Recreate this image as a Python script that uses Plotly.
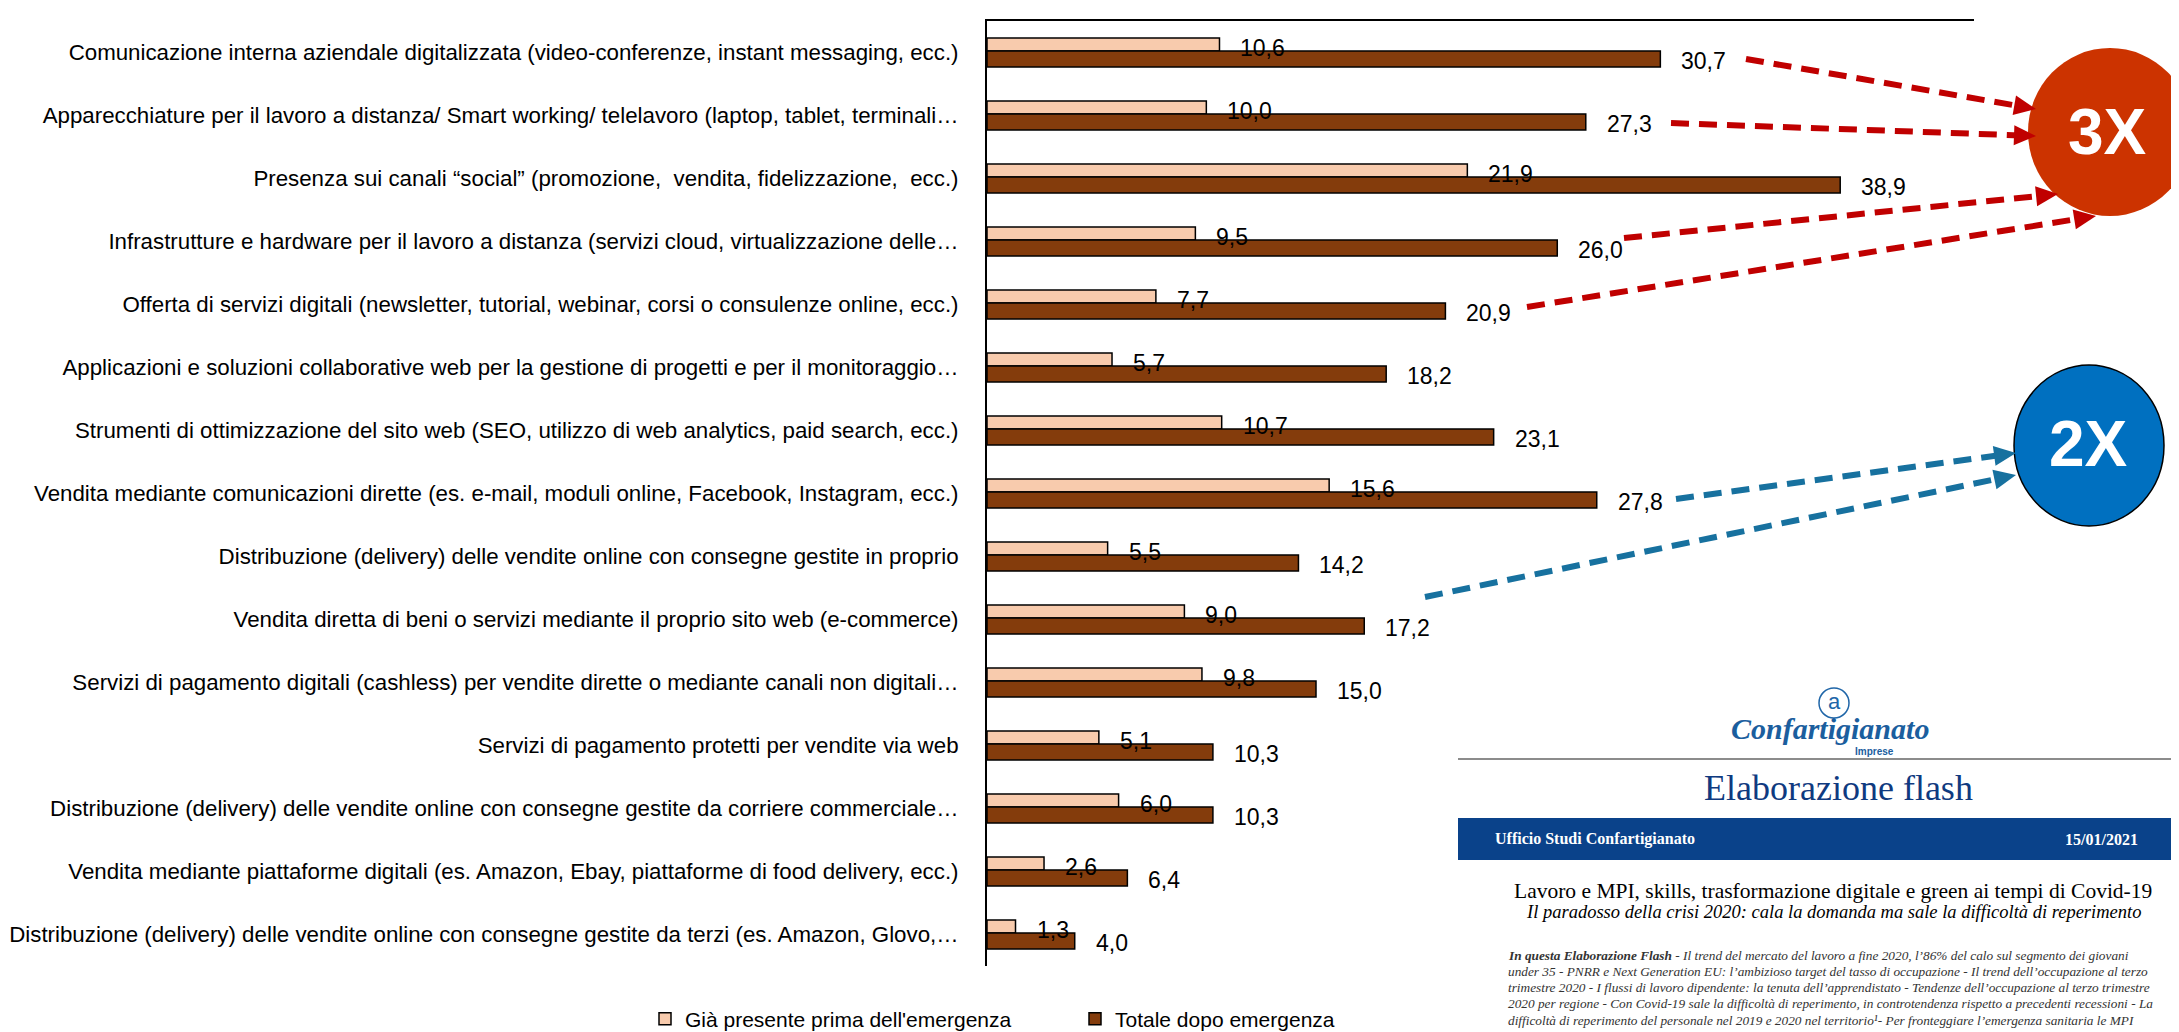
import math
import plotly.graph_objects as go

categories = [
    "Comunicazione interna aziendale digitalizzata (video-conferenze, instant messaging, ecc.)",
    "Apparecchiature per il lavoro a distanza/ Smart working/ telelavoro (laptop, tablet, terminali…",
    "Presenza sui canali “social” (promozione,  vendita, fidelizzazione,  ecc.)",
    "Infrastrutture e hardware per il lavoro a distanza (servizi cloud, virtualizzazione delle…",
    "Offerta di servizi digitali (newsletter, tutorial, webinar, corsi o consulenze online, ecc.)",
    "Applicazioni e soluzioni collaborative web per la gestione di progetti e per il monitoraggio…",
    "Strumenti di ottimizzazione del sito web (SEO, utilizzo di web analytics, paid search, ecc.)",
    "Vendita mediante comunicazioni dirette (es. e-mail, moduli online, Facebook, Instagram, ecc.)",
    "Distribuzione (delivery) delle vendite online con consegne gestite in proprio",
    "Vendita diretta di beni o servizi mediante il proprio sito web (e-commerce)",
    "Servizi di pagamento digitali (cashless) per vendite dirette o mediante canali non digitali…",
    "Servizi di pagamento protetti per vendite via web",
    "Distribuzione (delivery) delle vendite online con consegne gestite da corriere commerciale…",
    "Vendita mediante piattaforme digitali (es. Amazon, Ebay, piattaforme di food delivery, ecc.)",
    "Distribuzione (delivery) delle vendite online con consegne gestite da terzi (es. Amazon, Glovo,…",
]
before = [10.6, 10.0, 21.9, 9.5, 7.7, 5.7, 10.7, 15.6, 5.5, 9.0, 9.8, 5.1, 6.0, 2.6, 1.3]
after = [30.7, 27.3, 38.9, 26.0, 20.9, 18.2, 23.1, 27.8, 14.2, 17.2, 15.0, 10.3, 10.3, 6.4, 4.0]
series_names = ["Già presente prima dell'emergenza", "Totale dopo emergenza"]

W, H = 2179, 1032
L, R, T, B = 979, 1966, 13, 958
PW, PH = R - L, B - T

NARROW = "Liberation Sans Narrow, Arial Narrow, Liberation Sans, Arial, sans-serif"
SERIF = "Liberation Serif, Times New Roman, serif"


def P(px, py):
    return (px - L) / PW, (B - py) / PH


pos = list(range(len(categories)))
fig = go.Figure()
fig.add_trace(go.Bar(
    x=before, y=pos, orientation="h", offset=-0.23, width=0.206,
    marker=dict(color="#F8CBAD", line=dict(color="black", width=1.5)),
    name=series_names[0], legend="legend", hoverinfo="x",
))
fig.add_trace(go.Bar(
    x=after, y=pos, orientation="h", offset=-0.024, width=0.254,
    marker=dict(color="#843C0C", line=dict(color="black", width=1.5)),
    name=series_names[1], legend="legend2", hoverinfo="x",
))

annotations = []
shapes = []


def fmt(v):
    return f"{v:.1f}".replace(".", ",")


for i, (b, a) in enumerate(zip(before, after)):
    annotations.append(dict(x=b, y=i - 0.127, xref="x", yref="y", text=fmt(b), showarrow=False,
                            xanchor="left", yanchor="middle", xshift=19, yshift=-3,
                            font=dict(family=NARROW, size=23, color="black")))
    annotations.append(dict(x=a, y=i + 0.103, xref="x", yref="y", text=fmt(a), showarrow=False,
                            xanchor="left", yanchor="middle", xshift=19, yshift=-2,
                            font=dict(family=NARROW, size=23, color="black")))


def add_text(px, py, text, size, color, family, xanchor="center", yanchor="middle"):
    x, y = P(px, py)
    annotations.append(dict(x=x, y=y, xref="paper", yref="paper", text=text, showarrow=False,
                            xanchor=xanchor, yanchor=yanchor,
                            font=dict(family=family, size=size, color=color)))


def add_rect(x0, y0, x1, y1, fill, line_color=None, line_width=0, kind="rect"):
    a0, b0 = P(x0, y0)
    a1, b1 = P(x1, y1)
    shapes.append(dict(type=kind, xref="paper", yref="paper", x0=a0, y0=b1, x1=a1, y1=b0,
                       fillcolor=fill, line=dict(color=line_color or fill, width=line_width),
                       layer="above"))


def add_arrow(x0, y0, x1, y1, color):
    dx, dy = x1 - x0, y1 - y0
    d = math.hypot(dx, dy)
    ux, uy = dx / d, dy / d
    ex, ey = x1 - 16 * ux, y1 - 16 * uy
    a0, b0 = P(x0, y0)
    a1, b1 = P(ex, ey)
    shapes.append(dict(type="line", xref="paper", yref="paper", x0=a0, y0=b0, x1=a1, y1=b1,
                       line=dict(color=color, width=6, dash="18px,10px"), layer="above"))
    bx, by = x1 - 22 * ux, y1 - 22 * uy
    px_, py_ = -uy, ux
    pts = [(x1, y1), (bx + 10 * px_, by + 10 * py_), (bx - 10 * px_, by - 10 * py_)]
    pp = [P(*p) for p in pts]
    path = "M{},{} L{},{} L{},{} Z".format(pp[0][0], pp[0][1], pp[1][0], pp[1][1], pp[2][0], pp[2][1])
    shapes.append(dict(type="path", xref="paper", yref="paper", path=path,
                       fillcolor=color, line=dict(color=color, width=0), layer="above"))


# Circles
add_rect(2020, 40, 2184, 208, "#CC3300", kind="circle")
add_rect(2006, 357, 2156, 518, "#0070C0", line_color="black", line_width=1.5, kind="circle")
add_text(2099, 124, "<b>3X</b>", 64, "white", NARROW)
add_text(2080, 436, "<b>2X</b>", 64, "white", NARROW)

RED = "#C00000"
BLUE = "#17719F"
for (x0, y0, x1, y1) in [(1738, 51, 2028, 101), (1663, 115, 2028, 128),
                         (1616, 230, 2050, 186), (1519, 299, 2088, 208)]:
    add_arrow(x0, y0, x1, y1, RED)
for (x0, y0, x1, y1) in [(1668, 491, 2008, 445), (1417, 589, 2008, 467)]:
    add_arrow(x0, y0, x1, y1, BLUE)

# Document excerpt
dy = -6
add_rect(1811, 686 + dy, 1841, 716 + dy, "rgba(0,0,0,0)", line_color="#2066A8", line_width=1.5, kind="circle")
add_text(1826, 699 + dy, "a", 22, "#2066A8", "Liberation Sans, sans-serif")
add_text(1822, 726 + dy, "<b><i>Confartigianato</i></b>", 30, "#1B5E9E", SERIF)
add_text(1866, 749 + dy, "<b>Imprese</b>", 10, "#1B5E9E", "Liberation Sans, sans-serif")
g0 = P(1450, 757 + dy)
g1 = P(2179, 757 + dy)
shapes.append(dict(type="line", xref="paper", yref="paper", x0=g0[0], y0=g0[1], x1=g1[0], y1=g1[1],
                   line=dict(color="#8c8c8c", width=2), layer="above"))
add_text(1830, 786 + dy, "Elaborazione flash", 36, "#0F3A80", SERIF)
add_rect(1450, 816 + dy, 2185, 858 + dy, "#0A428A")
add_text(1485, 837 + dy, "<b>Ufficio Studi Confartigianato</b>", 16, "white", SERIF, xanchor="left")
add_text(2132, 837 + dy, "<b>15/01/2021</b>", 16, "white", SERIF, xanchor="right")
add_text(1825, 889 + dy, "Lavoro e MPI, skills, trasformazione digitale e green ai tempi di Covid-19", 21.5, "#000000", SERIF)
add_text(1825, 910 + dy, "<i>Il paradosso della crisi 2020: cala la domanda ma sale la difficoltà di reperimento</i>", 18.5, "#000000", SERIF)
para = [
    "<b>In questa Elaborazione Flash</b> - Il trend del mercato del lavoro a fine 2020, l’86% del calo sul segmento dei giovani",
    "under 35 - PNRR e Next Generation EU: l’ambizioso target del tasso di occupazione - Il trend dell’occupazione al terzo",
    "trimestre 2020 - I flussi di lavoro dipendente: la tenuta dell’apprendistato - Tendenze dell’occupazione al terzo trimestre",
    "2020 per regione - Con Covid-19 sale la difficoltà di reperimento, in controtendenza rispetto a precedenti recessioni - La",
    "difficoltà di reperimento del personale nel 2019 e 2020 nel territorio¹- Per fronteggiare l’emergenza sanitaria le MPI",
    "intensificano l’utilizzo delle tecnologie digitali - Recupero post crisi più intenso per imprese più coinvolte dalla digital",
]
for k, line in enumerate(para):
    add_text(1498, 947 + k * 16.3, "<i>" + line + "</i>", 13.3, "#333333", SERIF, xanchor="left")

lx1, ly = P(637, 1011)
lx2, _ = P(1067, 1011)

fig.update_layout(
    width=W, height=H,
    margin=dict(l=L, r=W - R, t=T, b=H - B, autoexpand=False),
    paper_bgcolor="white", plot_bgcolor="white",
    barmode="overlay",
    showlegend=True,
    legend=dict(x=lx1, y=ly, xanchor="left", yanchor="middle", orientation="h",
                font=dict(family=NARROW, size=21, color="black"), bgcolor="rgba(0,0,0,0)"),
    legend2=dict(x=lx2, y=ly, xanchor="left", yanchor="middle", orientation="h",
                 font=dict(family=NARROW, size=21, color="black"), bgcolor="rgba(0,0,0,0)"),
    xaxis=dict(range=[0, 45], side="top", showline=True, linecolor="black", linewidth=2,
               showticklabels=False, ticks="", showgrid=False, zeroline=False, fixedrange=True),
    yaxis=dict(range=[len(categories) - 0.5, -0.5], tickmode="array", tickvals=pos, ticktext=categories,
               showline=True, linecolor="black", linewidth=2, ticks="", showgrid=False, zeroline=False,
               automargin=False, ticklabelstandoff=22,
               tickfont=dict(family=NARROW, size=22.3, color="black")),
    annotations=annotations,
    shapes=shapes,
)

fig.write_html("out.html")
